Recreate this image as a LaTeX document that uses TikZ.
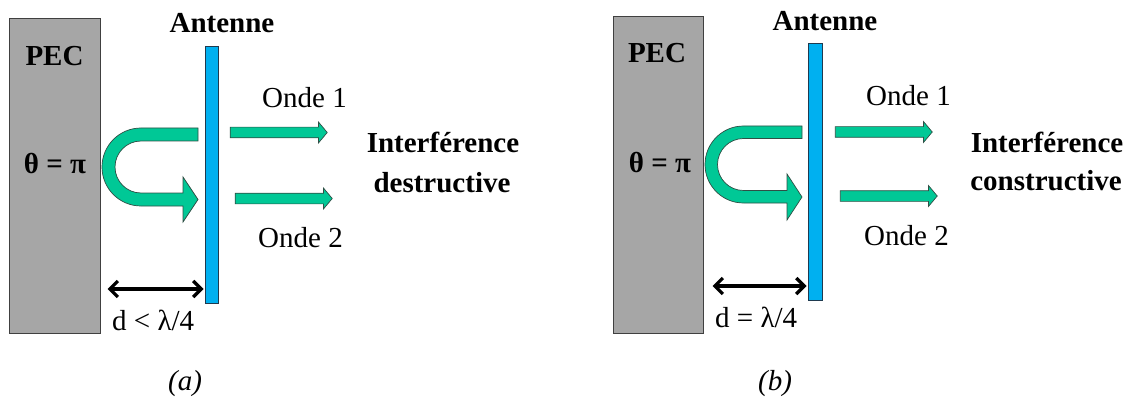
\documentclass[tikz,border=0pt]{standalone}
\usepackage{fontspec}
\setmainfont{Liberation Serif}
\usepackage{tikz}
\usetikzlibrary{arrows.meta,positioning,calc,shapes.arrows}
\definecolor{pecgray}{HTML}{A6A6A6}
\definecolor{pecedge}{HTML}{404040}
\definecolor{antblue}{HTML}{00B0F0}
\definecolor{antedge}{HTML}{1F3A4F}
\definecolor{wavegreen}{HTML}{00C896}
\definecolor{waveedge}{HTML}{2F4F45}

\begin{document}
\begin{tikzpicture}[x=1pt,y=-1pt,
 pec/.style={draw=pecedge,fill=pecgray,line width=1.2pt,inner sep=0pt,anchor=north west},
 ant/.style={draw=antedge,fill=antblue,line width=1pt,inner sep=0pt,anchor=north west},
 wave/.style={single arrow,draw=waveedge,fill=wavegreen,line width=0.7pt,inner xsep=0pt,inner ysep=5pt,
   single arrow head extend=5pt,single arrow tip angle=100,minimum height=97pt},
 uturn/.style={draw=waveedge,fill=wavegreen,line width=0.7pt},
 dim/.style={line width=3.2pt,{Straight Barb[length=8pt,width=16pt,line width=3.2pt]}-{Straight Barb[length=8pt,width=16pt,line width=3.2pt]}},
 lbl/.style={font=\fontsize{29}{34}\selectfont,inner sep=0pt,anchor=base},
 hd/.style={lbl,font=\fontsize{29}{34}\selectfont\bfseries}]
\useasboundingbox (0,0) rectangle (1131,398);

% (a) d < lambda/4
\node[pec,minimum width=91pt,minimum height=315pt] (pecA) at (9,18) {};
\node[ant,minimum width=13pt,minimum height=257pt] (antA) at (205,46) {};
\node[hd] (pecA-lbl) at (54.5,66) {PEC};
\node[hd] (thetaA) at (55,174) {θ = π};
\node[hd] (antA-lbl) at (222,33) {Antenne};
\draw[uturn] (198,128) -- (141,128) arc[start angle=270,end angle=90,radius=39]
  -- (183,206) -- (183,222) -- (198,199.5) -- (183,177) -- (183,193) -- (141,193)
  arc[start angle=90,end angle=270,radius=26] -- (198,141) -- cycle;
\node[wave] (w1A) at (276.5,132.5) {};
\node[wave] (w2A) at (281.5,198.5) {};
\node[lbl,anchor=base west] (o1A) at (262,108) {Onde 1};
\node[lbl,anchor=base west] (o2A) at (258,247) {Onde 2};
\node[hd] (intA) at (443,153) {Interférence};
\node[hd] (kindA) at (442,192) {destructive};
\coordinate (dA) at (0,289);
\draw[dim,shorten <=6.5pt,shorten >=1.5pt] (pecA.east |- dA) -- (antA.west |- dA);
\node[lbl,anchor=base west] (dlblA) at (112,330) {d < λ/4};
\node[lbl,font=\fontsize{29}{34}\selectfont\itshape] (capA) at (185,390) {(a)};

% (b) d = lambda/4
\node[pec,minimum width=90pt,minimum height=317pt] (pecB) at (613,16) {};
\node[ant,minimum width=14pt,minimum height=257pt] (antB) at (808,43) {};
\node[hd] (pecB-lbl) at (657,63) {PEC};
\node[hd] (thetaB) at (660,172) {θ = π};
\node[hd] (antB-lbl) at (825,31) {Antenne};
\draw[uturn] (802,126) -- (743.5,126) arc[start angle=270,end angle=90,radius=38.5]
  -- (787,203) -- (787,220) -- (802,197) -- (787,174) -- (787,190.5) -- (743.5,190.5)
  arc[start angle=90,end angle=270,radius=26] -- (802,138.5) -- cycle;
\node[wave] (w1B) at (881.5,132) {};
\node[wave] (w2B) at (886.5,196) {};
\node[lbl,anchor=base west] (o1B) at (866,106) {Onde 1};
\node[lbl,anchor=base west] (o2B) at (864,245) {Onde 2};
\node[hd] (intB) at (1047,153) {Interférence};
\node[hd] (kindB) at (1046,190) {constructive};
\coordinate (dB) at (0,286);
\draw[dim,shorten <=8.5pt,shorten >=1.5pt] (pecB.east |- dB) -- (antB.west |- dB);
\node[lbl,anchor=base west] (dlblB) at (715,327) {d = λ/4};
\node[lbl,font=\fontsize{29}{34}\selectfont\itshape] (capB) at (775,390) {(b)};
\end{tikzpicture}
\end{document}
